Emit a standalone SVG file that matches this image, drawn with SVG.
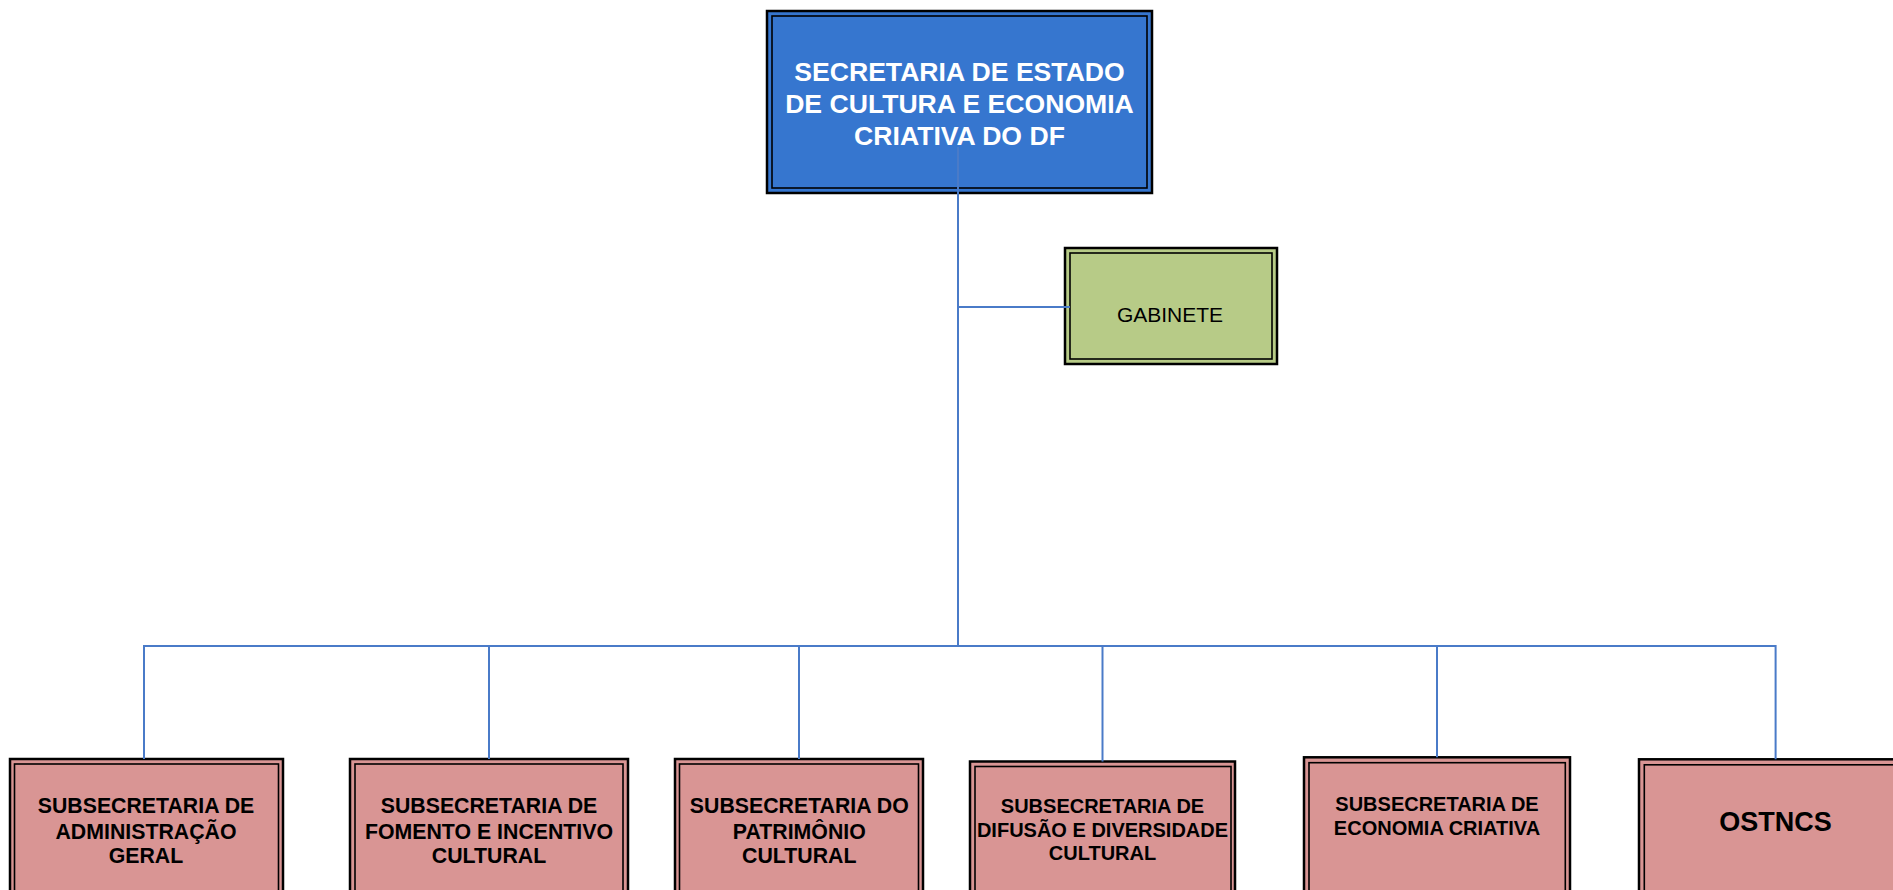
<svg xmlns="http://www.w3.org/2000/svg" width="1893" height="890" viewBox="0 0 1893 890">
<style>
  .outer { stroke: #000; stroke-width: 2.5; }
  .inner { fill: none; stroke: #000; stroke-width: 1.6; }
  .blue { fill: #3676CF; }
  .green { fill: #B7CB87; }
  .pink { fill: #D99594; }
  .conn { fill: none; stroke: #4A7BC8; stroke-width: 2; }
  text { font-family: "Liberation Sans", Arial, sans-serif; text-anchor: middle; }
  .tmain { fill: #fff; font-weight: bold; font-size: 26.6px; }
  .tgab { fill: #000; font-size: 21px; }
  .tsub { fill: #000; font-weight: bold; font-size: 21.3px; }
  .tsub2 { fill: #000; font-weight: bold; font-size: 20px; }
  .tost { fill: #000; font-weight: bold; font-size: 27px; }
</style>
<rect width="1893" height="890" fill="#fff"/>

<g id="secretaria">
  <rect class="outer blue" x="767" y="11" width="385" height="182"/>
  <rect class="inner" x="772" y="16" width="375" height="172"/>
  <text class="tmain" x="959.5" y="80.5">SECRETARIA DE ESTADO</text>
  <text class="tmain" x="959.5" y="112.5">DE CULTURA E ECONOMIA</text>
  <text class="tmain" x="959.5" y="145">CRIATIVA DO DF</text>
</g>

<g id="gabinete">
  <rect class="outer green" x="1065" y="248" width="212" height="116"/>
  <rect class="inner" x="1070" y="253" width="202" height="106"/>
  <text class="tgab" x="1170" y="322">GABINETE</text>
</g>

<g id="sub-administracao">
  <rect class="outer pink" x="10" y="759" width="273" height="140"/>
  <rect class="inner" x="14.5" y="764" width="264" height="140"/>
  <text class="tsub" x="146" y="812.7">SUBSECRETARIA DE</text>
  <text class="tsub" x="146" y="838.7">ADMINISTRAÇÃO</text>
  <text class="tsub" x="146" y="863.3">GERAL</text>
</g>

<g id="sub-fomento">
  <rect class="outer pink" x="350" y="759" width="278" height="140"/>
  <rect class="inner" x="355" y="764" width="268" height="140"/>
  <text class="tsub" x="489" y="812.7">SUBSECRETARIA DE</text>
  <text class="tsub" x="489" y="838.7">FOMENTO E INCENTIVO</text>
  <text class="tsub" x="489" y="863.3">CULTURAL</text>
</g>

<g id="sub-patrimonio">
  <rect class="outer pink" x="675" y="759" width="248" height="140"/>
  <rect class="inner" x="679.5" y="764" width="239" height="140"/>
  <text class="tsub" x="799.3" y="812.7">SUBSECRETARIA DO</text>
  <text class="tsub" x="799.3" y="838.7">PATRIMÔNIO</text>
  <text class="tsub" x="799.3" y="863.3">CULTURAL</text>
</g>

<g id="sub-difusao">
  <rect class="outer pink" x="970" y="761.5" width="265" height="140"/>
  <rect class="inner" x="975" y="766.5" width="256" height="140"/>
  <text class="tsub2" x="1102.5" y="813.3">SUBSECRETARIA DE</text>
  <text class="tsub2" x="1102.5" y="836.7">DIFUSÃO E DIVERSIDADE</text>
  <text class="tsub2" x="1102.5" y="860">CULTURAL</text>
</g>

<g id="sub-economia">
  <rect class="outer pink" x="1304" y="757.3" width="266" height="140"/>
  <rect class="inner" x="1309" y="762.7" width="256.3" height="140"/>
  <text class="tsub2" x="1437" y="810.7">SUBSECRETARIA DE</text>
  <text class="tsub2" x="1437" y="835">ECONOMIA CRIATIVA</text>
</g>

<g id="ostncs">
  <rect class="outer pink" x="1639" y="759.3" width="280" height="140"/>
  <rect class="inner" x="1644.3" y="764.8" width="280" height="140"/>
  <text class="tost" x="1775.6" y="830.7">OSTNCS</text>
</g>

<g id="connectors">
  <path class="conn" d="M958 147 V646"/>
  <path class="conn" d="M958 307 H1070"/>
  <path class="conn" d="M144 759 V646 H1775.6 V759.3"/>
  <path class="conn" d="M489 646 V759"/>
  <path class="conn" d="M799 646 V759"/>
  <path class="conn" d="M1102.5 646 V761.5"/>
  <path class="conn" d="M1437 646 V757.3"/>
</g>
</svg>
